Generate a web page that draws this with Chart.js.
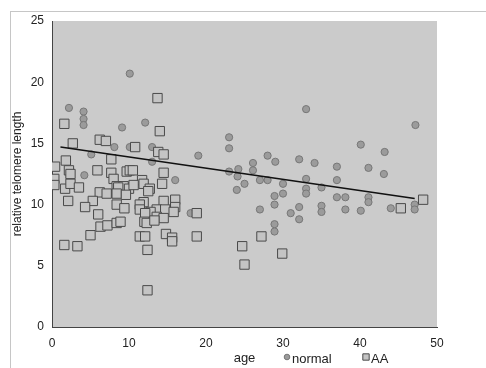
<!DOCTYPE html>
<html>
<head>
<meta charset="utf-8">
<script src="https://cdn.jsdelivr.net/npm/chart.js@4.4.0/dist/chart.umd.min.js"></script>
<style>
  html, body { margin: 0; padding: 0; background: #fff; }
</style>
</head>
<body>
<canvas id="chart" width="486" height="368"></canvas>
<script>
// values
const normalAge = [10.1, 2.2, 4.1, 4.1, 4.1, 9.1, 12.1, 8.1, 10.1, 13.0, 5.1, 13.0, 19.0, 4.2, 16.0, 18.0,
  33.0, 23.0, 23.0, 28.0, 26.1, 29.0, 32.1, 34.1, 23.0, 24.2, 24.1, 26.1, 25.0, 27.0, 28.0, 30.0,
  30.0, 28.9, 28.9, 24.0, 33.0, 33.0, 33.0, 35.0, 27.0, 31.0, 32.1, 32.1, 35.0, 35.0, 28.9, 28.9,
  47.2, 40.1, 43.2, 37.0, 41.1, 43.1, 37.0, 37.0, 38.1, 41.1, 41.1, 38.1, 40.1, 44.0, 47.1, 47.1];
const normalLength = [20.7, 17.9, 17.6, 17.0, 16.5, 16.3, 16.7, 14.7, 14.7, 14.7, 14.1, 13.5, 14.0, 12.4, 12.0, 9.3,
  17.8, 15.5, 14.6, 14.0, 13.4, 13.5, 13.7, 13.4, 12.7, 12.9, 12.3, 12.8, 11.7, 12.0, 12.0, 11.7,
  10.9, 10.7, 10.0, 11.2, 12.1, 11.3, 10.9, 11.4, 9.6, 9.3, 9.8, 8.8, 9.9, 9.4, 8.4, 7.8,
  16.5, 14.9, 14.3, 13.1, 13.0, 12.5, 12.0, 10.6, 10.6, 10.6, 10.2, 9.6, 9.5, 9.7, 10.0, 9.6];

const aaAge = [1.6, 2.7, 6.2, 7.0, 13.7, 14.0, 10.8, 13.8, 14.5, 7.7, 0.4, 1.8, 2.2, 2.4, 0.3, 0.3,
  1.7, 2.4, 3.5, 5.9, 7.7, 8.0, 9.7, 10.1, 8.4, 9.3, 10.0, 8.6, 6.2, 7.1, 8.4, 9.6,
  5.3, 2.1, 4.3, 8.4, 9.4, 6.0, 6.3, 7.2, 8.4, 8.9, 5.0, 1.6, 3.3, 10.5, 14.5, 14.3,
  11.7, 11.9, 10.6, 12.7, 12.5, 11.9, 11.4, 14.5, 16.0, 16.0, 11.4, 13.6, 14.7, 15.8,
  12.8, 12.1, 13.6, 14.5, 12.0, 12.3, 13.3, 18.8, 14.8, 15.6, 15.6, 11.4, 12.1, 18.8,
  12.4, 12.4, 27.2, 24.7, 29.9, 25.0, 45.3, 48.2];
const aaLength = [16.6, 15.0, 15.3, 15.2, 18.7, 16.0, 14.7, 14.3, 14.1, 13.7, 13.1, 13.6, 12.8, 12.5, 12.1, 11.6,
  11.3, 11.7, 11.4, 12.8, 12.6, 12.1, 12.7, 12.8, 11.5, 11.5, 11.3, 11.4, 11.0, 10.9, 10.9, 10.8,
  10.3, 10.3, 9.8, 10.0, 9.7, 9.2, 8.2, 8.3, 8.5, 8.6, 7.5, 6.7, 6.6, 12.8, 12.6, 11.7,
  12.0, 11.7, 11.6, 11.3, 11.1, 10.2, 10.0, 10.3, 10.4, 9.8, 9.6, 9.6, 9.6, 9.4,
  9.4, 9.3, 9.0, 8.9, 8.6, 8.5, 8.7, 9.3, 7.6, 7.3, 7.0, 7.4, 7.4, 7.4,
  6.3, 3.0, 7.4, 6.6, 6.0, 5.1, 9.7, 10.4];

const trendAge = [1.1, 47.1];
const trendLength = [14.7, 10.5];

const xTicks = [0, 10, 20, 30, 40, 50];
const yTicks = [0, 5, 10, 15, 20, 25];

const toPoints = (xs, ys) => xs.map((x, i) => ({ x: x, y: ys[i] }));

const FONT = 'Liberation Sans, Arial, sans-serif';

const legendItems = [
  { label: 'normal', ds: 1, markerX: 287, textX: 292 },
  { label: 'AA', ds: 2, markerX: 366, textX: 371 }
];

const decor = {
  id: 'decor',
  beforeDraw(chart) {
    const { ctx, chartArea: a } = chart;
    ctx.save();
    ctx.fillStyle = '#fff';
    ctx.fillRect(0, 0, chart.width, chart.height);
    ctx.fillStyle = '#cbcbcb';
    ctx.fillRect(a.left, a.top, a.right - a.left, a.bottom - a.top);
    ctx.strokeStyle = '#8c8c8c';
    ctx.lineWidth = 1;
    ctx.setLineDash([1, 1]);
    ctx.strokeRect(10.5, 11.5, chart.width, chart.height);
    ctx.restore();
  },
  afterDraw(chart) {
    const ctx = chart.ctx;
    const y = 359;
    ctx.save();
    legendItems.forEach(item => {
      const ds = chart.data.datasets[item.ds];
      ctx.fillStyle = ds.backgroundColor;
      ctx.strokeStyle = ds.borderColor;
      ctx.lineWidth = 1;
      Chart.helpers.drawPoint(ctx, {
        pointStyle: ds.pointStyle,
        radius: ds.pointStyle === 'rect' ? 4.5 : 2.8,
        rotation: 0,
        borderWidth: 1
      }, item.markerX, y - 2);
      ctx.fillStyle = '#222';
      ctx.font = '13px ' + FONT;
      ctx.textBaseline = 'middle';
      ctx.textAlign = 'left';
      ctx.fillText(item.label, item.textX, y);
    });
    ctx.restore();
  }
};

new Chart(document.getElementById('chart').getContext('2d'), {
  type: 'scatter',
  data: {
    datasets: [
      {
        label: 'trend',
        data: toPoints(trendAge, trendLength),
        showLine: true,
        borderColor: '#111',
        borderWidth: 1.5,
        pointRadius: 0,
        order: 0
      },
      {
        label: 'normal',
        data: toPoints(normalAge, normalLength),
        pointStyle: 'circle',
        pointRadius: 3.6,
        backgroundColor: '#9b9b9b',
        borderColor: '#777',
        borderWidth: 1,
        order: 2
      },
      {
        label: 'AA',
        data: toPoints(aaAge, aaLength),
        pointStyle: 'rect',
        pointRadius: 6.6,
        backgroundColor: '#c4c4c4',
        borderColor: '#4a4a4a',
        borderWidth: 1,
        order: 1
      }
    ]
  },
  options: {
    responsive: false,
    animation: false,
    events: [],
    layout: { padding: { left: 10, right: 49, top: 21, bottom: 0 } },
    plugins: {
      legend: { display: false },
      tooltip: { enabled: false }
    },
    scales: {
      x: {
        type: 'linear',
        min: 0,
        max: 50,
        afterBuildTicks: s => { s.ticks = xTicks.map(v => ({ value: v })); },
        afterFit: s => { s.height = 41; },
        ticks: { color: '#222', font: { family: FONT, size: 12 }, padding: 9 },
        grid: { display: false, drawTicks: false },
        border: { display: true, color: '#444', width: 1, dash: [1, 1] },
        title: {
          display: true,
          text: 'age',
          color: '#222',
          font: { family: FONT, size: 13 },
          padding: { top: 0, bottom: 2 }
        }
      },
      y: {
        min: 0,
        max: 25,
        afterBuildTicks: s => { s.ticks = yTicks.map(v => ({ value: v })); },
        afterFit: s => { s.width = 42; },
        ticks: { color: '#222', font: { family: FONT, size: 12 }, padding: 8 },
        grid: { display: false, drawTicks: false },
        border: { display: true, color: '#444', width: 1, dash: [1, 1] },
        title: {
          display: true,
          text: 'relative telomere length',
          color: '#222',
          font: { family: FONT, size: 12 },
          padding: { top: 0, bottom: 0 }
        }
      }
    }
  },
  plugins: [decor]
});
</script>
</body>
</html>
